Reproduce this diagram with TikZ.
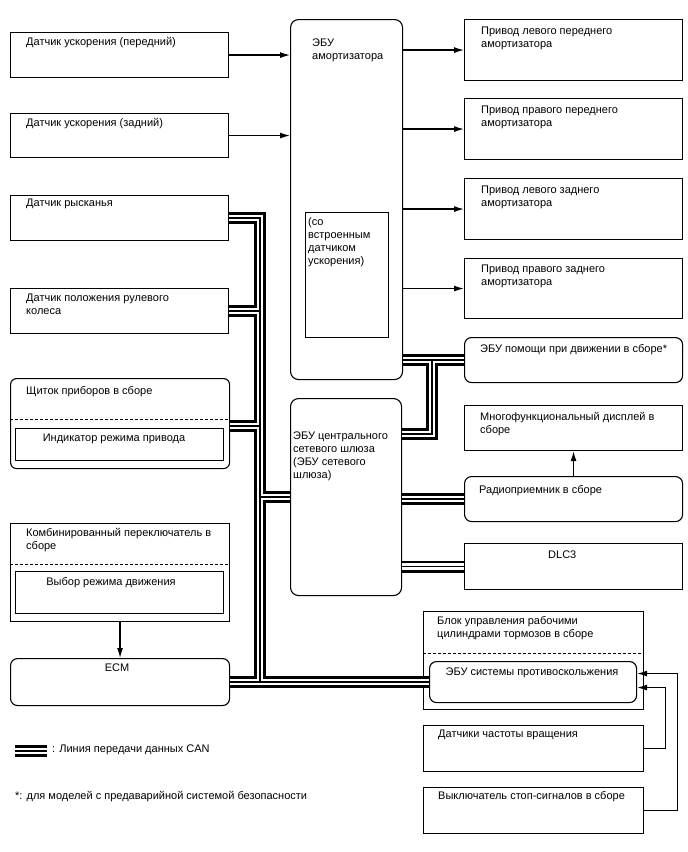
\documentclass[tikz,border=0pt]{standalone}
\usepackage{fontspec}
\setmainfont{Liberation Sans}
\usetikzlibrary{arrows.meta,calc}
\newcommand\canlines[1]{%
  \draw[#1] (yaw.east) -| (bb);
  \draw[#1] (steer.east) -- (steer.east -| bb);
  \draw[#1] (mtc) -- (mtc -| bb);
  \draw[#1] (gw.west -| bb) -- (gw.west);
  \draw[#1] (ecm.east) -- (abs.west);
  \draw[#1] (shock.east |- assist.west) -- (assist.west);
  \draw[#1] (rj) |- (g2);
  \draw[#1] (radio.west -| gw.east) -- (radio.west);
  \draw[#1] (dlc.west -| gw.east) -- (dlc.west);
  \draw[#1] (lg1) -- (lg2);
}
\begin{document}
\begin{tikzpicture}[x=1pt,y=-1pt,
  box/.style={draw,line width=1.1,anchor=north west,inner sep=0,rectangle},
  rbox/.style={box,rounded corners=7pt},
  lbl/.style={anchor=north west,inner sep=0,align=left,font=\fontsize{11}{13}\selectfont},
  clbl/.style={anchor=north,inner sep=0,align=center,font=\fontsize{11}{13}\selectfont},
  arr/.style={line width=1.2,-{Latex[length=10pt,width=6pt]}},
  dsh/.style={dash pattern=on 3pt off 2pt,line width=0.9},
]
\useasboundingbox (0,0) rectangle (688,852);

% left column
\node[box,minimum width=218,minimum height=45] (accF) at (10,32) {};
\node[lbl] (taccF) at (26,37) {Датчик ускорения (передний)};
\node[box,minimum width=218,minimum height=44] (accR) at (10,113) {};
\node[lbl] (taccR) at (26,118) {Датчик ускорения (задний)};
\node[box,minimum width=218,minimum height=45] (yaw) at (10,195) {};
\node[lbl] (tyaw) at (26,199) {Датчик рысканья};
\node[box,minimum width=218,minimum height=45] (steer) at (10,288) {};
\node[lbl] (tsteer) at (26,294) {Датчик положения рулевого\\колеса};

\node[rbox,minimum width=219,minimum height=90,rounded corners=6pt] (meter) at (10,378) {};
\node[lbl] (tmeter) at (26,386) {Щиток приборов в сборе};
\draw[dsh] (10,419) -- (229,419);
\node[box,minimum width=208,minimum height=32] (ind) at (15,428) {};
\node[clbl] (tind) at (114,434) {Индикатор режима привода};

\node[box,minimum width=219,minimum height=98] (comb) at (10,523) {};
\node[lbl] (tcomb) at (26,528) {Комбинированный переключатель в\\сборе};
\draw[dsh] (10,564) -- (229,564);
\node[box,minimum width=208,minimum height=42] (sel) at (15,571) {};
\node[clbl] (tsel) at (111,577) {Выбор режима движения};

\node[rbox,minimum width=219,minimum height=47] (ecm) at (10,658) {};
\node[clbl] (tecm) at (117,664) {ECM};
\draw[arr] (comb.south) -- (comb.south |- ecm.north);

% centre column
\node[rbox,minimum width=112,minimum height=360,rounded corners=8pt] (shock) at (290,19) {};
\node[lbl] (tshock) at (312,39) {ЭБУ\\амортизатора};
\node[box,minimum width=83,minimum height=125] (shin) at (305,212) {};
\node[lbl] (tshin) at (308,217) {(со\\встроенным\\датчиком\\ускорения)};

\node[rbox,minimum width=111,minimum height=197,rounded corners=8pt] (gw) at (290,398) {};
\node[lbl] (tgw) at (293,432) {ЭБУ центрального\\сетевого шлюза\\(ЭБУ сетевого\\шлюза)};

% right column
\node[box,minimum width=218,minimum height=61] (act1) at (464,19) {};
\node[lbl] (tact1) at (481,27) {Привод левого переднего\\амортизатора};
\node[box,minimum width=218,minimum height=61] (act2) at (464,98) {};
\node[lbl] (tact2) at (481,106) {Привод правого переднего\\амортизатора};
\node[box,minimum width=218,minimum height=61] (act3) at (464,178) {};
\node[lbl] (tact3) at (481,186) {Привод левого заднего\\амортизатора};
\node[box,minimum width=218,minimum height=60] (act4) at (464,258) {};
\node[lbl] (tact4) at (481,265) {Привод правого заднего\\амортизатора};

\node[rbox,minimum width=218,minimum height=45] (assist) at (464,337) {};
\node[lbl] (tassist) at (480,344) {ЭБУ помощи при движении в сборе*};
\node[box,minimum width=218,minimum height=45] (disp) at (464,405) {};
\node[lbl] (tdisp) at (480,412) {Многофункциональный дисплей в\\сборе};
\node[rbox,minimum width=218,minimum height=45] (radio) at (464,476) {};
\node[lbl] (tradio) at (479,485) {Радиоприемник в сборе};
\node[box,minimum width=218,minimum height=46] (dlc) at (464,543) {};
\node[lbl] (tdlc) at (548,551) {DLC3};
\draw[arr] (radio.north) -- (radio.north |- disp.south);

\node[box,minimum width=220,minimum height=98] (blk) at (423,611) {};
\node[lbl] (tblk) at (437,616) {Блок управления рабочими\\цилиндрами тормозов в сборе};
\draw[dsh] (423,653) -- (643,653);
\node[rbox,minimum width=207,minimum height=41] (abs) at (429,661) {};
\node[clbl] (tabs) at (532,668) {ЭБУ системы противоскольжения};

\node[box,minimum width=220,minimum height=46] (spd) at (423,725) {};
\node[lbl] (tspd) at (438,730) {Датчики частоты вращения};
\node[box,minimum width=220,minimum height=46] (stop) at (423,787) {};
\node[lbl] (tstop) at (438,791) {Выключатель стоп-сигналов в сборе};

\coordinate (f1) at ($(abs.east)+(0,5.5)$);
\coordinate (f2) at ($(abs.east)+(0,-8.5)$);
\draw[arr] (spd.east) -- ++(21,0) |- (f1);
\draw[arr] (stop.east) -- ++(33,0) |- (f2);

% signal arrows
\draw[arr] (accF.east) -- (accF.east -| shock.west);
\draw[arr] (accR.east) -- (accR.east -| shock.west);
\draw[arr] (act1.west -| shock.east) -- (act1.west);
\draw[arr] (act2.west -| shock.east) -- (act2.west);
\draw[arr] (act3.west -| shock.east) -- (act3.west);
\draw[arr] (act4.west -| shock.east) -- (act4.west);

% legend
\coordinate (lg1) at (15,751);
\coordinate (lg2) at (47,751);
\node[lbl,anchor=west] (tleg) at (52,750) {: Линия передачи данных CAN};
\node[lbl,anchor=west] (tfoot) at (15,797) {*: для моделей с предаварийной системой безопасности};

% CAN bus helper coordinates
\coordinate (bx) at (260,0);
\coordinate (bb) at (bx |- ecm.east);
\coordinate (my) at (0,426);
\coordinate (mtc) at (meter.east |- my);
\coordinate (rx) at (432,0);
\coordinate (rj) at (rx |- assist.west);
\coordinate (gy) at (0,434);
\coordinate (g2) at (gw.east |- gy);

\canlines{line width=12,black}
\canlines{line width=6.5,white}
\canlines{line width=1.2,black}
\end{tikzpicture}
\end{document}
